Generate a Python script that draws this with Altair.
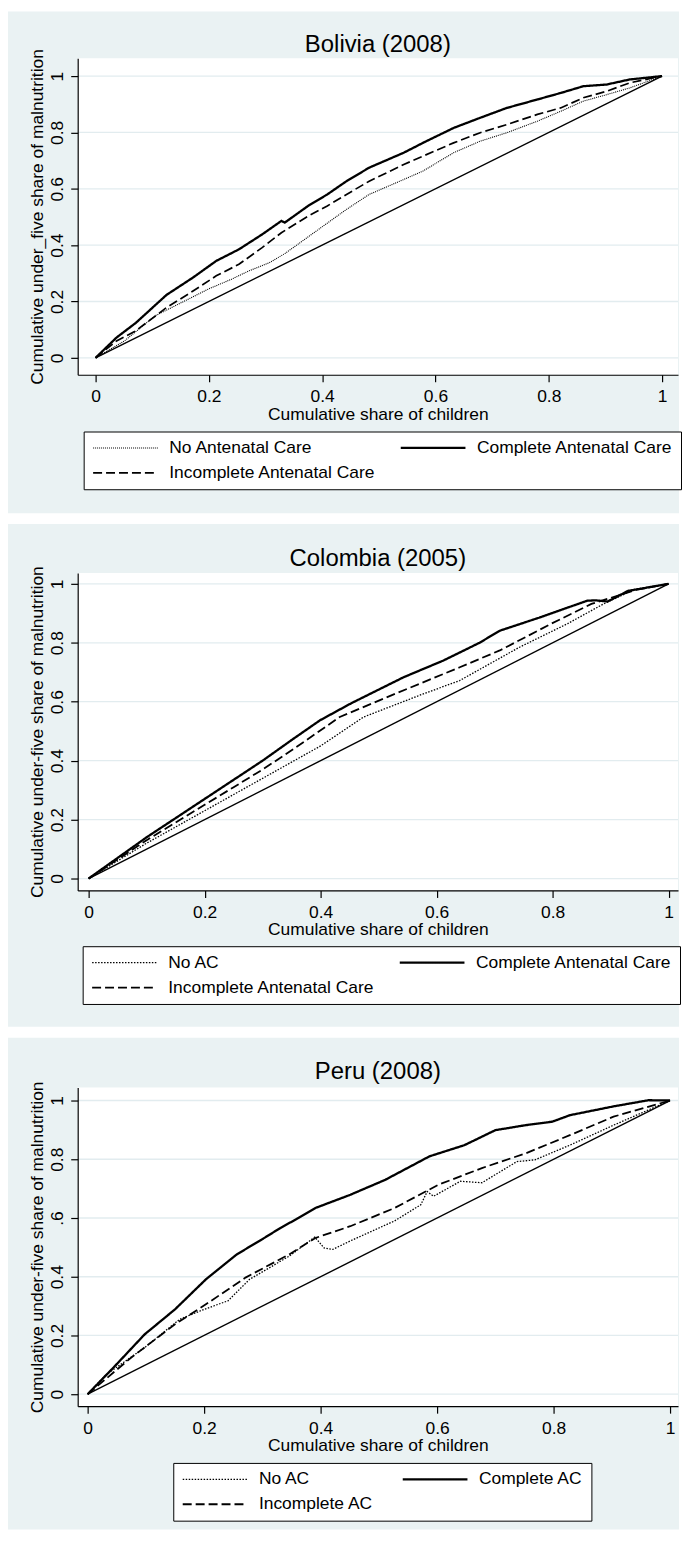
import altair as alt
import pandas as pd

FONT = "Liberation Sans"
BG = "#EAF2F3"
GRID = "#E2ECEF"

# ---------------- tick values / labels ----------------
X_TICKS = [0, 0.2, 0.4, 0.6, 0.8, 1]
Y_TICKS = [0, 0.2, 0.4, 0.6, 0.8, 1]
X_TICK_LABELS = ["0", "0.2", "0.4", "0.6", "0.8", "1"]
BOL_Y_TICK_LABELS = ["0", "0.2", "0.4", "0.6", "0.8", "1"]
COL_Y_TICK_LABELS = ["0", "0.2", "0.4", "0.6", "0.8", "1"]
PER_Y_TICK_LABELS = ["0", "0.2", "0.4", ".6", "0.8", "1"]

X_TITLE = "Cumulative share of children"
BOL_Y_TITLE = "Cumulative under_five share of malnutrition"
COL_Y_TITLE = "Cumulative under-five share of malnutrition"
PER_Y_TITLE = "Cumulative under-five share of malnutrition"

TITLES = ["Bolivia (2008)", "Colombia (2005)", "Peru (2008)"]

# legend entries (column-major order: first column top, first column bottom, second column)
BOL_LABELS = ["No Antenatal Care", "Incomplete Antenatal Care", "Complete Antenatal Care"]
COL_LABELS = ["No AC", "Incomplete Antenatal Care", "Complete Antenatal Care"]
PER_LABELS = ["No AC", "Incomplete AC", "Complete AC"]

EQUALITY_X = [0, 1]
EQUALITY_Y = [0, 1]

# ---------------- Bolivia (2008) ----------------
BOL_NO_X = [0, 0.051, 0.105, 0.2, 0.24, 0.27, 0.307, 0.334, 0.355, 0.402, 0.443, 0.483, 0.544, 0.578, 0.632, 0.679, 0.726, 0.78, 0.821, 0.861, 0.902, 0.943, 1]
BOL_NO_Y = [0, 0.06, 0.149, 0.245, 0.279, 0.308, 0.338, 0.37, 0.4, 0.468, 0.527, 0.58, 0.633, 0.663, 0.728, 0.769, 0.799, 0.84, 0.875, 0.911, 0.934, 0.958, 1]
BOL_COMP_X = [0, 0.037, 0.071, 0.125, 0.172, 0.213, 0.253, 0.294, 0.328, 0.334, 0.375, 0.409, 0.443, 0.483, 0.544, 0.578, 0.632, 0.679, 0.726, 0.78, 0.821, 0.861, 0.902, 0.943, 1]
BOL_COMP_Y = [0, 0.072, 0.124, 0.223, 0.285, 0.344, 0.385, 0.438, 0.486, 0.48, 0.539, 0.58, 0.627, 0.675, 0.728, 0.763, 0.816, 0.852, 0.887, 0.917, 0.94, 0.964, 0.97, 0.988, 1]
BOL_INC_X = [0, 0.037, 0.071, 0.125, 0.172, 0.213, 0.253, 0.294, 0.328, 0.375, 0.409, 0.443, 0.483, 0.544, 0.578, 0.632, 0.679, 0.726, 0.78, 0.821, 0.861, 0.902, 0.943, 1]
BOL_INC_Y = [0, 0.06, 0.096, 0.178, 0.237, 0.291, 0.332, 0.391, 0.444, 0.503, 0.539, 0.58, 0.627, 0.686, 0.716, 0.763, 0.799, 0.828, 0.864, 0.887, 0.923, 0.946, 0.976, 1]

# ---------------- Colombia (2005) ----------------
COL_NO_X = [0, 0.05, 0.1, 0.15, 0.2, 0.25, 0.3, 0.35, 0.4, 0.474, 0.571, 0.64, 0.743, 0.826, 0.888, 0.94, 1]
COL_NO_Y = [0, 0.06, 0.12, 0.175, 0.23, 0.285, 0.34, 0.395, 0.45, 0.548, 0.622, 0.672, 0.785, 0.865, 0.932, 0.98, 1]
COL_COMP_X = [0, 0.05, 0.1, 0.15, 0.2, 0.25, 0.3, 0.35, 0.399, 0.453, 0.543, 0.612, 0.674, 0.709, 0.778, 0.86, 0.875, 0.895, 0.93, 1]
COL_COMP_Y = [0, 0.07, 0.14, 0.205, 0.27, 0.335, 0.4, 0.47, 0.537, 0.595, 0.683, 0.74, 0.8, 0.841, 0.886, 0.943, 0.944, 0.94, 0.976, 1]
COL_INC_X = [0, 0.05, 0.1, 0.15, 0.2, 0.25, 0.3, 0.35, 0.433, 0.53, 0.64, 0.709, 0.798, 0.867, 0.945, 1]
COL_INC_Y = [0, 0.065, 0.13, 0.19, 0.25, 0.31, 0.37, 0.435, 0.548, 0.628, 0.717, 0.774, 0.865, 0.932, 0.98, 1]

# ---------------- Peru (2008) ----------------
PER_NO_X = [0, 0.03, 0.098, 0.158, 0.2, 0.241, 0.278, 0.346, 0.39, 0.406, 0.421, 0.451, 0.527, 0.572, 0.583, 0.594, 0.64, 0.677, 0.737, 0.768, 0.828, 0.903, 1]
PER_NO_Y = [0, 0.064, 0.159, 0.255, 0.289, 0.318, 0.391, 0.47, 0.535, 0.498, 0.493, 0.522, 0.59, 0.645, 0.69, 0.674, 0.725, 0.72, 0.792, 0.798, 0.848, 0.916, 1]
PER_COMP_X = [0, 0.045, 0.098, 0.15, 0.203, 0.256, 0.3, 0.331, 0.36, 0.391, 0.451, 0.511, 0.587, 0.647, 0.7, 0.752, 0.798, 0.828, 0.903, 0.963, 1]
PER_COMP_Y = [0, 0.092, 0.204, 0.289, 0.391, 0.476, 0.528, 0.566, 0.598, 0.634, 0.679, 0.73, 0.81, 0.848, 0.899, 0.916, 0.928, 0.95, 0.98, 1.001, 1]
PER_INC_X = [0, 0.075, 0.15, 0.203, 0.271, 0.346, 0.391, 0.451, 0.527, 0.602, 0.677, 0.752, 0.828, 0.903, 1]
PER_INC_Y = [0, 0.125, 0.238, 0.306, 0.397, 0.476, 0.532, 0.572, 0.634, 0.713, 0.77, 0.82, 0.882, 0.945, 1]


def tick_expr(ticks, labels):
    arr = "[" + ",".join("'" + s + "'" for s in labels) + "]"
    step = ticks[1] - ticks[0]
    return f"{arr}[round(datum.value / {step})]"


def panel(title, y_title, y_labels, labels, series, dashes, widths,
          xdom, ydom, height, rect_top, rect_bottom, title_y,
          legend_x, legend_y, col_pad):
    width = 603
    rows = []
    for lab, (xs, ys) in zip(labels, series):
        for xv, yv in zip(xs, ys):
            rows.append({"series": lab, "x": xv, "y": yv})
    df = pd.DataFrame(rows)
    eq = pd.DataFrame({"x": EQUALITY_X, "y": EQUALITY_Y})
    grid = pd.DataFrame({"y": Y_TICKS})
    one = pd.DataFrame({"a": [0]})

    x_axis = alt.Axis(values=X_TICKS, labelExpr=tick_expr(X_TICKS, X_TICK_LABELS),
                      title=X_TITLE, grid=False, domainColor="black", domainWidth=1.2,
                      tickColor="black", tickWidth=1.2, tickSize=7,
                      labelFont=FONT, labelFontSize=17.5, labelColor="black",
                      labelPadding=6, labelFlush=False, labelOverlap=False,
                      titleFont=FONT, titleFontSize=17.5, titleFontWeight="normal",
                      titleColor="black", titlePadding=0, zindex=1)
    y_axis = alt.Axis(values=Y_TICKS, labelExpr=tick_expr(Y_TICKS, y_labels),
                      title=y_title, grid=False, domainColor="black", domainWidth=1.2,
                      tickColor="black", tickWidth=1.2, tickSize=7,
                      labelFont=FONT, labelFontSize=17.5, labelColor="black",
                      labelAngle=270, labelAlign="center", labelBaseline="alphabetic",
                      labelPadding=8, labelFlush=False, labelOverlap=False,
                      titleFont=FONT, titleFontSize=17.5, titleFontWeight="normal",
                      titleColor="black", titlePadding=2, zindex=1)
    x_enc = alt.X("x:Q", scale=alt.Scale(domain=xdom, nice=False, zero=False), axis=x_axis)
    y_enc = alt.Y("y:Q", scale=alt.Scale(domain=ydom, nice=False, zero=False), axis=y_axis)

    bg = alt.Chart(one).mark_rect(color=BG).encode(
        x=alt.value(-70), x2=alt.value(604), y=alt.value(rect_top), y2=alt.value(rect_bottom))
    plot_bg = alt.Chart(one).mark_rect(color="white").encode(
        x=alt.value(0), x2=alt.value(width), y=alt.value(0), y2=alt.value(height))
    rules = alt.Chart(grid).mark_rule(color=GRID, strokeWidth=1.3).encode(y=y_enc)
    diag = alt.Chart(eq).mark_line(color="black", strokeWidth=1.4).encode(x=x_enc, y=y_enc)
    curves = alt.Chart(df).mark_line(color="black", strokeCap="butt").encode(
        x=x_enc, y=y_enc,
        strokeDash=alt.StrokeDash("series:N", scale=alt.Scale(domain=labels, range=dashes),
                                  legend=alt.Legend(title=None, orient="none",
                                                    legendX=legend_x, legendY=legend_y,
                                                    columns=2, columnPadding=col_pad,
                                                    rowPadding=7, padding=8,
                                                    strokeColor="black", fillColor="white",
                                                    labelFont=FONT, labelFontSize=17.5,
                                                    labelColor="black", labelOffset=10,
                                                    labelLimit=400,
                                                    symbolType="stroke", symbolSize=4225,
                                                    symbolStrokeWidth=1.5,
                                                    symbolStrokeColor="black",
                                                    clipHeight=17, zindex=1)),
        strokeWidth=alt.StrokeWidth("series:N", scale=alt.Scale(domain=labels, range=widths),
                                    legend=None),
    )
    ttl = alt.Chart(one).mark_text(text=title, font=FONT, fontSize=24, color="black",
                                   align="center", baseline="alphabetic").encode(
        x=alt.value(width / 2), y=alt.value(title_y))
    return alt.layer(bg, plot_bg, rules, diag, curves, ttl).properties(width=width, height=height)


# series order in each panel: No care, Incomplete care, Complete care
p1 = panel(TITLES[0], BOL_Y_TITLE, BOL_Y_TICK_LABELS, BOL_LABELS,
           [(BOL_NO_X, BOL_NO_Y), (BOL_INC_X, BOL_INC_Y), (BOL_COMP_X, BOL_COMP_Y)],
           [[1, 1], [9, 4], [1, 0]], [1.1, 2.3, 2.6],
           [-0.0316, 1.0282], [-0.0601, 1.0636], 318, -47, 457, -6, 6, 375, 23)
p2 = panel(TITLES[1], COL_Y_TITLE, COL_Y_TICK_LABELS, COL_LABELS,
           [(COL_NO_X, COL_NO_Y), (COL_INC_X, COL_INC_Y), (COL_COMP_X, COL_COMP_Y)],
           [[1.5, 1.5], [9, 4], [1, 0]], [1.3, 2.3, 2.6],
           [-0.0189, 1.0163], [-0.0405, 1.0372], 319, -49, 456, -7, 5, 375, 23)
p3 = panel(TITLES[2], PER_Y_TITLE, PER_Y_TICK_LABELS, PER_LABELS,
           [(PER_NO_X, PER_NO_Y), (PER_INC_X, PER_INC_Y), (PER_COMP_X, PER_COMP_Y)],
           [[1.5, 1.5], [9, 4], [1, 0]], [1.3, 2.3, 2.6],
           [-0.0171, 1.0137], [-0.0407, 1.044], 320, -50, 444, -9, 96, 377, 28)

chart = alt.vconcat(p1, p2, p3, spacing=11).resolve_scale(
    x="independent", y="independent", strokeDash="independent", strokeWidth="independent"
).resolve_axis(x="independent", y="independent").resolve_legend(
    strokeDash="independent", strokeWidth="independent"
).properties(background="white", padding=0).configure_view(strokeWidth=0)

chart.save("out.html", embed_options={"renderer": "svg", "actions": False})
